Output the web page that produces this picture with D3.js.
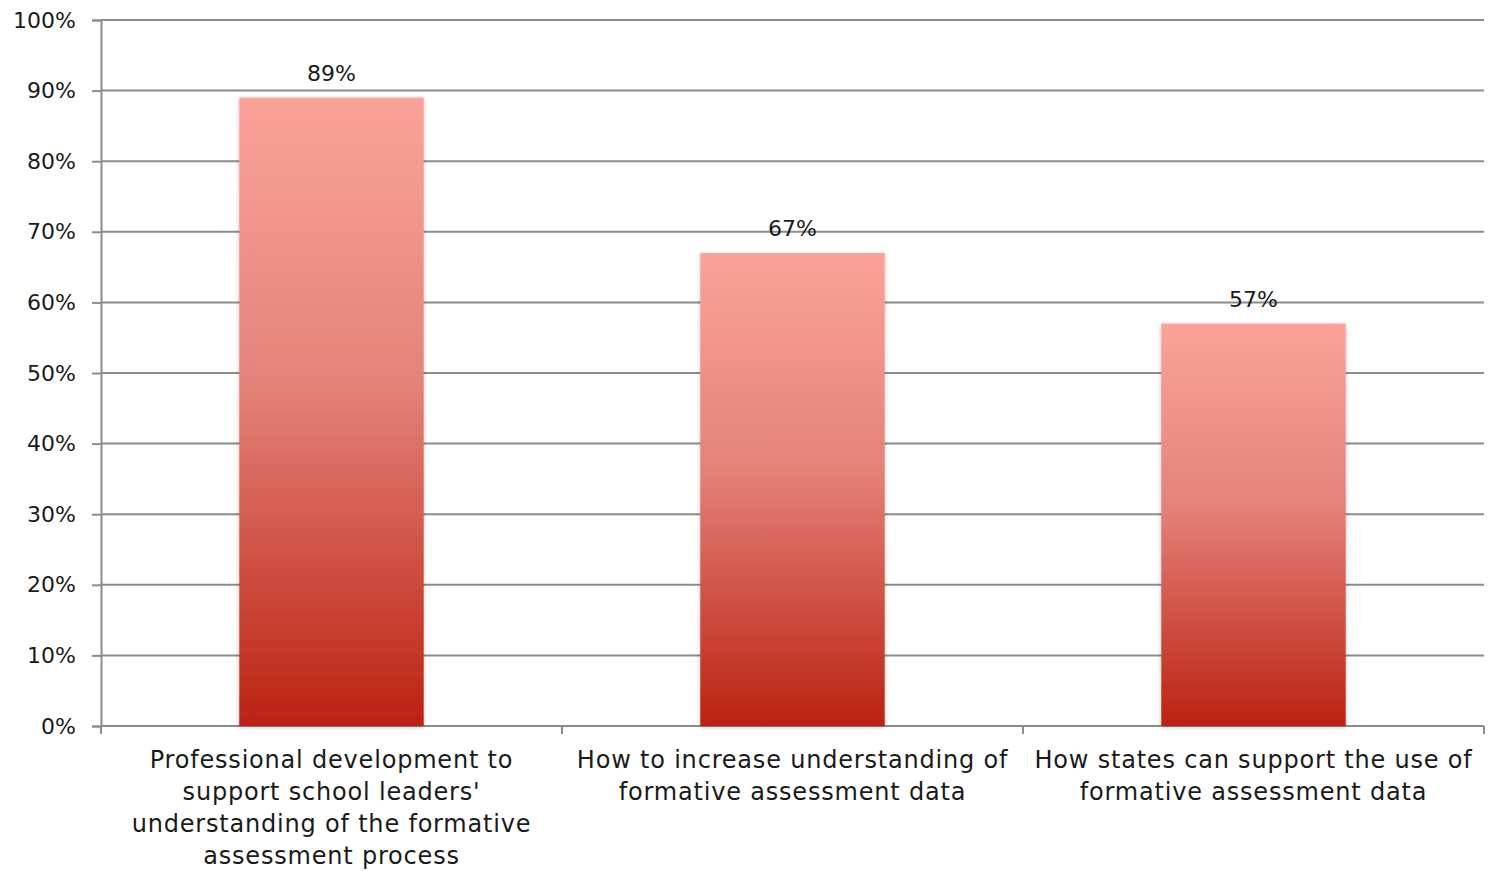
<!DOCTYPE html>
<html>
<head>
<meta charset="utf-8">
<script src="https://cdn.jsdelivr.net/npm/d3@7"></script>
<style>
body { margin: 0; background: #fff; }
text { font-family: "DejaVu Sans", sans-serif; fill: #1a1a1a; }
</style>
</head>
<body>
<svg width="1493" height="871"></svg>
<script>
const categories = [
    ["Professional development to", "support school leaders'", "understanding of the formative", "assessment process"],
    ["How to increase understanding of", "formative assessment data"],
    ["How states can support the use of", "formative assessment data"]
];
const values = [0.89, 0.67, 0.57];
const yTicks = [0, 0.1, 0.2, 0.3, 0.4, 0.5, 0.6, 0.7, 0.8, 0.9, 1.0];

let svg = d3.select("svg");

var margin = { top: 20, right: 9, bottom: 145, left: 101 },
    width = 1493 - margin.left - margin.right,
    height = 871 - margin.top - margin.bottom;

let defs = svg.append("defs");
let grad = defs.append("linearGradient")
    .attr("id", "barGrad")
    .attr("x1", 0).attr("y1", 0).attr("x2", 0).attr("y2", 1);
grad.append("stop").attr("offset", "0%").attr("stop-color", "#fba29b");
grad.append("stop").attr("offset", "45%").attr("stop-color", "#e4837a");
grad.append("stop").attr("offset", "100%").attr("stop-color", "#bb2211");

let shadow = defs.append("filter").attr("id", "shadow")
    .attr("x", "-10%").attr("y", "-10%").attr("width", "120%").attr("height", "120%");
shadow.append("feDropShadow")
    .attr("dx", 0).attr("dy", 1).attr("stdDeviation", 2)
    .attr("flood-color", "#000").attr("flood-opacity", 0.25);

let g = svg.append("g")
    .attr("transform", "translate(" + margin.left + "," + margin.top + ")");

var x = d3.scaleBand()
    .domain(d3.range(categories.length))
    .range([0, width])
    .paddingInner(0.6)
    .paddingOuter(0.3);

var y = d3.scaleLinear()
    .domain([0, 1])
    .range([height, 0]);

// gridlines + y axis
let yAxis = g.append("g")
    .call(d3.axisLeft(y).tickValues(yTicks).tickFormat(d3.format(".0%")).tickSize(9).tickPadding(16));
yAxis.select(".domain").attr("stroke", "#8c8c8c").attr("stroke-width", 2);
yAxis.selectAll(".tick line").attr("stroke", "#8c8c8c").attr("stroke-width", 2);
yAxis.selectAll(".tick text").style("font-size", "22px").attr("fill", "#1a1a1a");

g.append("g")
    .selectAll("line")
    .data(yTicks)
    .enter()
    .append("line")
    .attr("x1", 0)
    .attr("x2", width)
    .attr("y1", d => y(d))
    .attr("y2", d => y(d))
    .attr("stroke", "#8c8c8c")
    .attr("stroke-width", 2);

// x axis ticks at band boundaries
let bandStep = width / categories.length;
g.append("g")
    .selectAll("line")
    .data(d3.range(categories.length + 1))
    .enter()
    .append("line")
    .attr("x1", d => d * bandStep)
    .attr("x2", d => d * bandStep)
    .attr("y1", height)
    .attr("y2", height + 8)
    .attr("stroke", "#8c8c8c")
    .attr("stroke-width", 2);

// bars
g.selectAll(".bar")
    .data(values)
    .enter()
    .append("rect")
    .attr("class", "bar")
    .attr("x", (d, i) => x(i))
    .attr("y", d => y(d))
    .attr("width", x.bandwidth())
    .attr("height", d => height - y(d))
    .attr("fill", "url(#barGrad)")
    .attr("filter", "url(#shadow)");

// value labels
g.selectAll(".val")
    .data(values)
    .enter()
    .append("text")
    .attr("class", "val")
    .attr("x", (d, i) => x(i) + x.bandwidth() / 2)
    .attr("y", d => y(d) - 17)
    .attr("text-anchor", "middle")
    .style("font-size", "22px")
    .text(d => d3.format(".0%")(d));

// category labels
let cat = g.selectAll(".cat")
    .data(categories)
    .enter()
    .append("text")
    .attr("class", "cat")
    .attr("text-anchor", "middle")
    .attr("transform", (d, i) => "translate(" + (x(i) + x.bandwidth() / 2) + "," + (height + 42) + ")")
    .style("font-size", "24px")
    .style("letter-spacing", "0.8px");

cat.selectAll("tspan")
    .data(d => d)
    .enter()
    .append("tspan")
    .attr("x", 0)
    .attr("dy", (d, i) => i === 0 ? 0 : 32)
    .text(d => d);
</script>
</body>
</html>
